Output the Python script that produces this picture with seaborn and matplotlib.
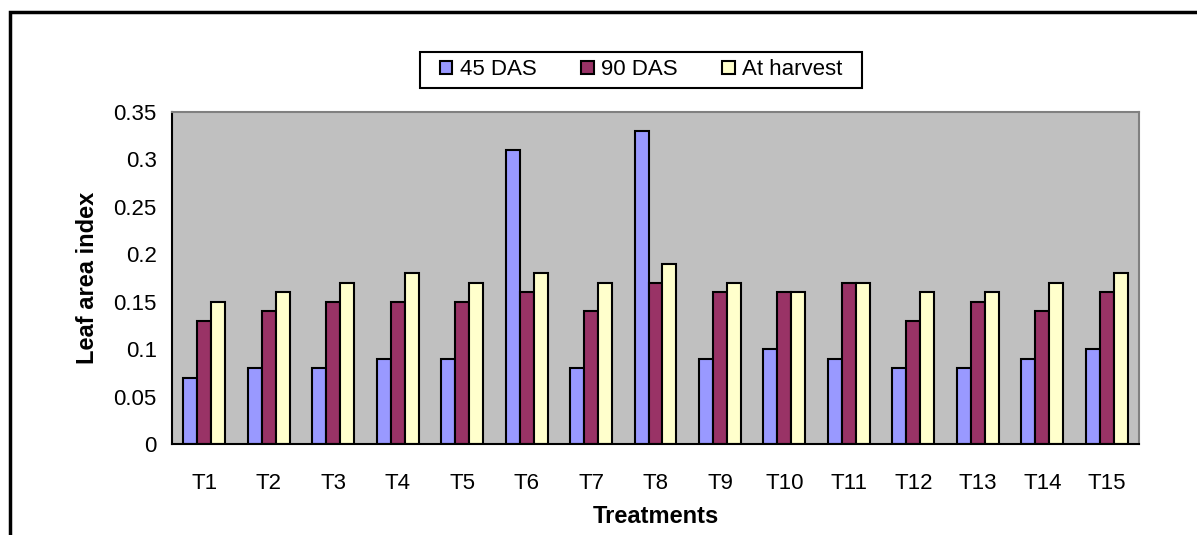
import numpy as np
import pandas as pd
import matplotlib
matplotlib.use('Agg')
import matplotlib.pyplot as plt
import seaborn as sns
from matplotlib.patches import Rectangle
from matplotlib.ticker import FixedLocator, NullFormatter

treatments = ['T%d' % i for i in range(1, 16)]
das45 = [0.07, 0.08, 0.08, 0.09, 0.09, 0.31, 0.08, 0.33, 0.09, 0.10, 0.09, 0.08, 0.08, 0.09, 0.10]
das90 = [0.13, 0.14, 0.15, 0.15, 0.15, 0.16, 0.14, 0.17, 0.16, 0.16, 0.17, 0.13, 0.15, 0.14, 0.16]
harvest = [0.15, 0.16, 0.17, 0.18, 0.17, 0.18, 0.17, 0.19, 0.17, 0.16, 0.17, 0.16, 0.16, 0.17, 0.18]
series = ['45 DAS', '90 DAS', 'At harvest']
colors = ['#9999FF', '#993366', '#FFFFCC']

df = pd.DataFrame({'Treatment': treatments * 3,
                   'Stage': np.repeat(series, len(treatments)),
                   'LAI': das45 + das90 + harvest})

sns.set_style('white')
plt.rcParams['font.family'] = ['Liberation Sans', 'DejaVu Sans']
plt.rcParams['text.color'] = 'black'
plt.rcParams['axes.labelcolor'] = 'black'
plt.rcParams['xtick.color'] = 'black'
plt.rcParams['ytick.color'] = 'black'

W, H = 1197, 535
fig = plt.figure(figsize=(W / 100, H / 100), dpi=100)
ax = fig.add_axes([172/W, 1 - 444/H, (1139 - 172)/W, (444 - 112)/H])

sns.barplot(data=df, x='Treatment', y='LAI', hue='Stage', order=treatments,
            hue_order=series, palette=colors, width=0.65, saturation=1,
            edgecolor='black', linewidth=1.5, ax=ax)

ax.set_facecolor('#C0C0C0')
ax.set_xlim(-0.5, len(treatments) - 0.5)
ax.set_ylim(0, 0.35)
ax.set_yticks(np.arange(0, 0.351, 0.05))
ax.set_yticklabels(['0', '0.05', '0.1', '0.15', '0.2', '0.25', '0.3', '0.35'])
ax.xaxis.set_minor_locator(FixedLocator(np.arange(-0.5, len(treatments), 1)))
ax.xaxis.set_minor_formatter(NullFormatter())
ax.tick_params(axis='x', which='major', length=0, labelsize=16, pad=21)
ax.tick_params(axis='x', which='minor', length=7, width=1.5, direction='out', color='black')
ax.tick_params(axis='y', length=7, width=1.5, direction='out', color='black', labelsize=16, pad=4)

for side in ['top', 'right']:
    ax.spines[side].set_color('#808080')
    ax.spines[side].set_linewidth(1.5)
for side in ['left', 'bottom']:
    ax.spines[side].set_color('black')
    ax.spines[side].set_linewidth(1.5)

ax.set_xlabel('Treatments', fontsize=17, fontweight='bold', labelpad=8)
ax.set_ylabel('Leaf area index', fontsize=17, fontweight='bold', labelpad=10)

# legend without its own frame; frame drawn wider (Excel style side padding)
leg = ax.legend(loc='center', bbox_to_anchor=(0.4855, 1 + 0.127), ncol=3, fontsize=16,
                frameon=False, handlelength=0.55, handleheight=0.55,
                columnspacing=2.0, handletextpad=0.35, borderpad=0.3, borderaxespad=0)
for h in leg.legend_handles:
    h.set_edgecolor('black')
    h.set_linewidth(1.5)

fig.canvas.draw()
bb = leg.get_window_extent()
padx, pady = 13, 1
fig.patches.append(Rectangle(((bb.x0 - padx) / W, (bb.y0 - pady) / H),
                             (bb.width + 2 * padx) / W, (bb.height + 2 * pady) / H,
                             transform=fig.transFigure, fill=True, facecolor='white',
                             edgecolor='black', linewidth=1.5, zorder=-1))

# outer chart border (right and bottom edges run off the image)
fig.patches.append(Rectangle((10/W, -0.1), 1.2, 1 - 12/H + 0.1, transform=fig.transFigure,
                             fill=False, edgecolor='black', linewidth=2.5))

fig.savefig('out.png', dpi=100)
